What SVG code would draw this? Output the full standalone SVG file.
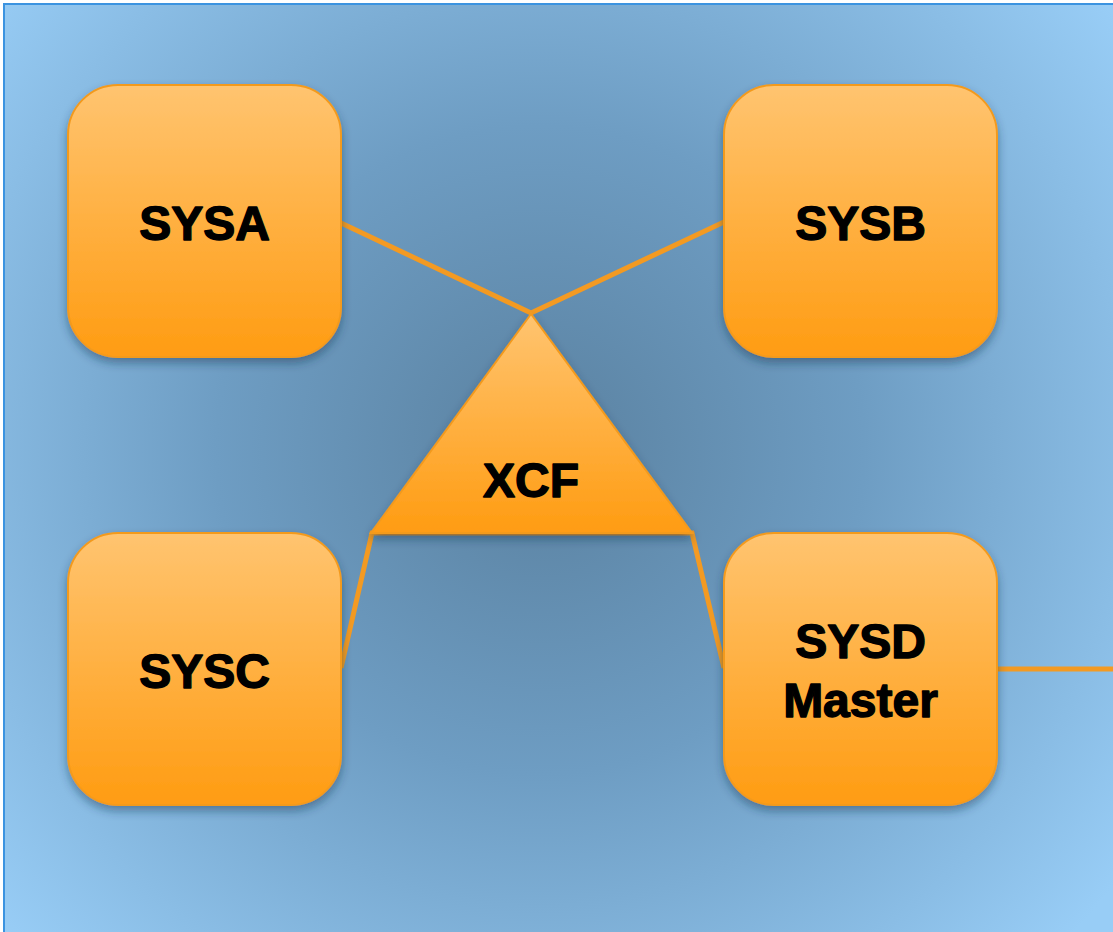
<svg xmlns="http://www.w3.org/2000/svg" width="1113" height="932" viewBox="0 0 1113 932">
  <style>
    .box { fill: url(#boxFill); stroke: #f39a1e; stroke-width: 2; filter: url(#shadow); }
    .link { fill: none; stroke: #f39a22; stroke-width: 5; stroke-linejoin: miter; }
    .label { font-family: "Liberation Sans", Arial, sans-serif; font-weight: bold; font-size: 48px; fill: #000; stroke: #000; stroke-width: 1.4; stroke-linejoin: round; text-anchor: middle; }
  </style>
  <defs>
    <radialGradient id="bg" cx="540" cy="450" r="720" gradientUnits="userSpaceOnUse">
      <stop offset="0" stop-color="#5a81a0"/>
      <stop offset="0.45" stop-color="#6e9dc3"/>
      <stop offset="1" stop-color="#98cdf6"/>
    </radialGradient>
    <linearGradient id="boxFill" x1="0" y1="0" x2="0" y2="1">
      <stop offset="0" stop-color="#ffc470"/>
      <stop offset="1" stop-color="#ff9c12"/>
    </linearGradient>
    <filter id="shadow" x="-20%" y="-20%" width="140%" height="150%">
      <feDropShadow dx="0" dy="5" stdDeviation="5" flood-color="#1d3550" flood-opacity="0.45"/>
    </filter>
  </defs>

  <!-- page and panel -->
  <rect x="0" y="0" width="1113" height="932" fill="#ffffff"/>
  <rect x="4" y="4" width="1112" height="932" fill="url(#bg)" stroke="#3b93e0" stroke-width="2"/>

  <!-- connectors -->
  <g id="connectors">
    <polyline class="link" points="341,223 531,313 724,222"/>
    <polyline class="link" points="341,668 372,533 692,533 724,668"/>
    <line class="link" x1="997" y1="669" x2="1113" y2="669"/>
  </g>

  <g id="xcf">
    <polygon class="box" points="531,314 371,533 692,533"/>
    <text class="label" x="531" y="497">XCF</text>
  </g>

  <g id="sysa">
    <rect class="box" x="68" y="85" width="273" height="272" rx="50"/>
    <text class="label" x="204.5" y="240">SYSA</text>
  </g>

  <g id="sysb">
    <rect class="box" x="724" y="85" width="273" height="272" rx="50"/>
    <text class="label" x="860.5" y="240">SYSB</text>
  </g>

  <g id="sysc">
    <rect class="box" x="68" y="533" width="273" height="272" rx="50"/>
    <text class="label" x="204.5" y="688">SYSC</text>
  </g>

  <g id="sysd">
    <rect class="box" x="724" y="533" width="273" height="272" rx="50"/>
    <text class="label" x="860.5" y="658">SYSD</text>
    <text class="label" x="860.5" y="717">Master</text>
  </g>
</svg>
